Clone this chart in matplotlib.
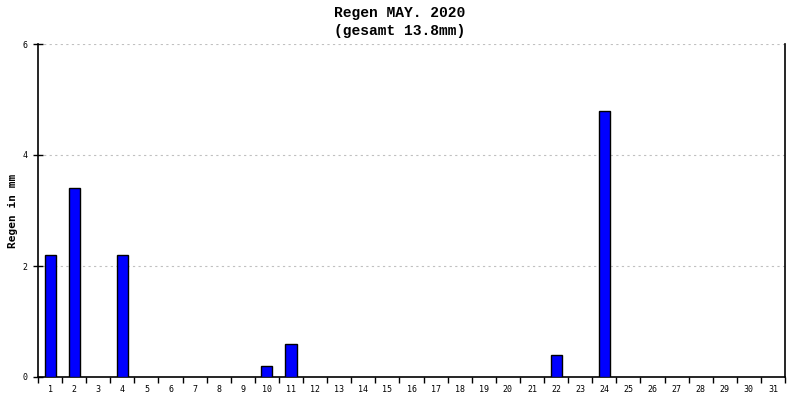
import numpy as np
import matplotlib.pyplot as plt
from matplotlib.ticker import FixedLocator

days = list(range(1, 32))
rain = [2.2, 3.4, 0, 2.2, 0, 0, 0, 0, 0, 0.2, 0.6, 0, 0, 0, 0, 0,
        0, 0, 0, 0, 0, 0.4, 0, 4.8, 0, 0, 0, 0, 0, 0, 0]
y_ticks = [0, 2, 4, 6]
title = "Regen MAY. 2020\n(gesamt 13.8mm)"

plt.rcParams['font.family'] = ['DejaVu Sans Mono']

fig = plt.figure(figsize=(8, 4), dpi=100)
ax = fig.add_axes([0.0475, 0.0575, 0.93375, 0.8325])

# only draw bars for days with rain
d = np.array(days)
r = np.array(rain)
mask = r > 0
ax.bar(d[mask], r[mask], width=0.46, color='#0000ff', edgecolor='black',
       linewidth=1, zorder=3)

ax.set_xlim(0.5, 31.5)
ax.set_ylim(0, 6)
ax.set_xticks(days)
ax.set_xticklabels([str(x) for x in days], fontsize=6)
ax.xaxis.set_minor_locator(FixedLocator(np.arange(0.5, 32, 1)))
ax.tick_params(axis='x', which='major', length=0, pad=6)
ax.tick_params(axis='x', which='minor', length=4, width=1, direction='out')
ax.set_yticks(y_ticks)
ax.set_yticklabels([str(v) for v in y_ticks], fontsize=6)
ax.tick_params(axis='y', length=7, width=1, direction='inout', pad=4)

ax.grid(axis='y', color='#c0c0c0', linestyle=(0, (2, 3)), linewidth=0.8, zorder=0)
ax.spines['top'].set_visible(False)
for s in ['left', 'right', 'bottom']:
    ax.spines[s].set_linewidth(1.2)

ax.set_ylabel('Regen in mm', fontsize=8, fontweight='bold', labelpad=3)
fig.text(0.5, 0.985, title, ha='center', va='top', fontsize=10.5,
         family='Liberation Mono', fontweight='bold', linespacing=1.35)

fig.savefig('out.png', dpi=100)
